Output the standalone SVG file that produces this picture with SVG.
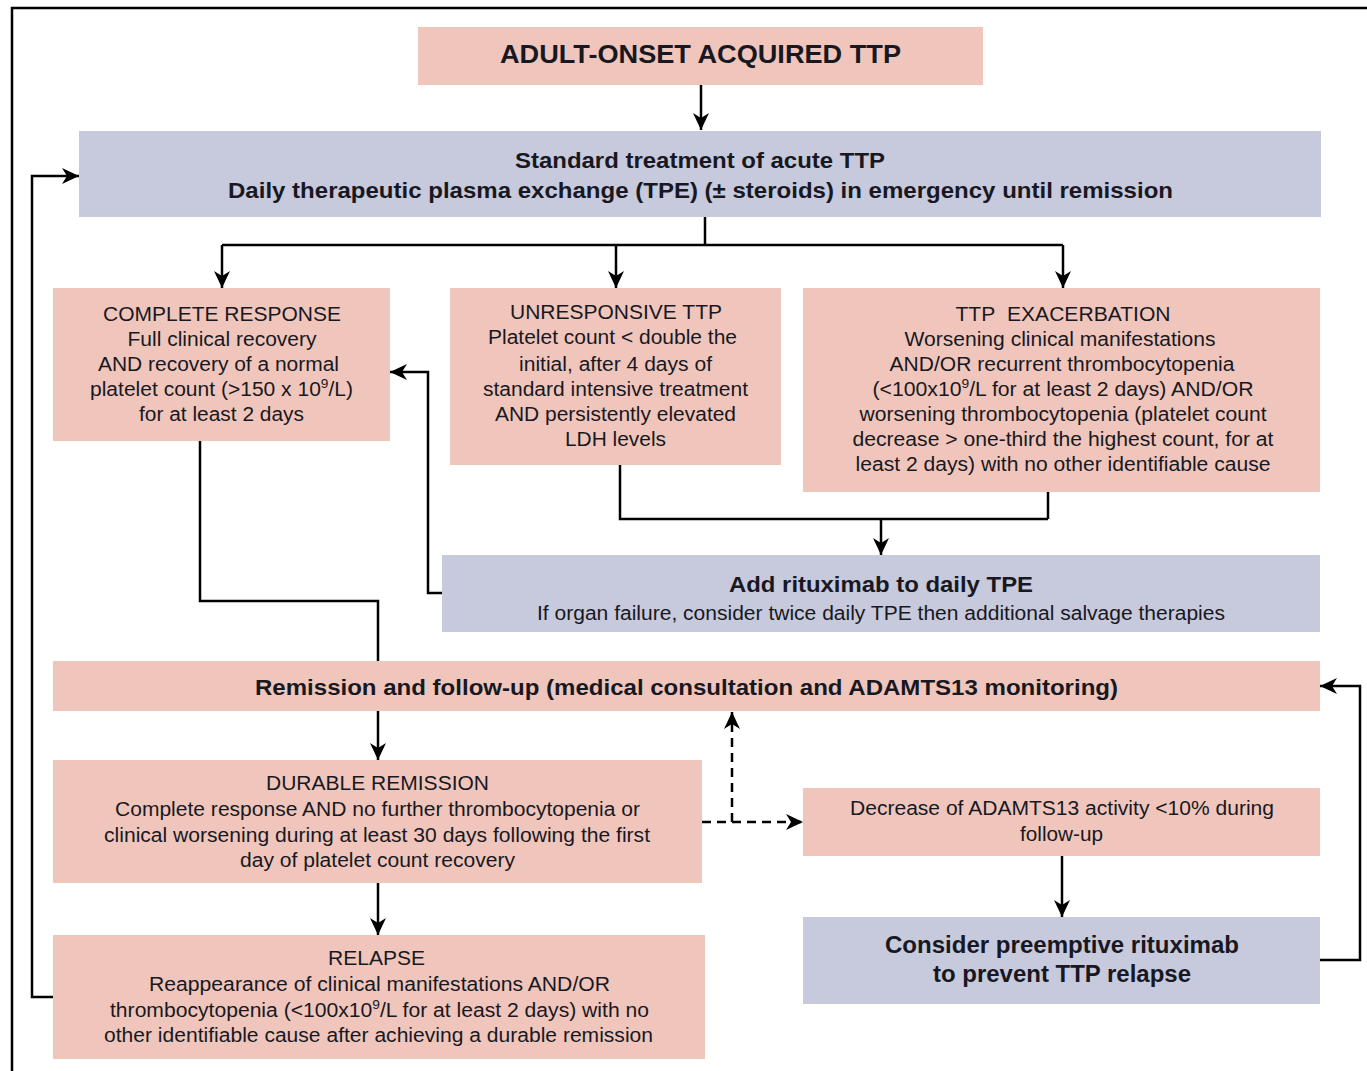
<svg xmlns="http://www.w3.org/2000/svg" width="1367" height="1071" viewBox="0 0 1367 1071">
<style>
.pink{fill:#F0C6BC;}
.blue{fill:#C7C9DC;}
text{font-family:"Liberation Sans",Arial,sans-serif;fill:#181822;text-anchor:middle;}
.b{font-weight:bold;font-size:22px;}
.r{font-size:20px;}
.c{font-size:20px;}
.ln{fill:none;stroke:#000;stroke-width:2.5;}
.ar{marker-end:url(#ah);}
.da{stroke-dasharray:9 6;}
</style>
<defs>
<marker id="ah" markerUnits="userSpaceOnUse" markerWidth="18" markerHeight="16" refX="17" refY="8" orient="auto">
<path d="M0,0 L17,8 L0,16 L5,8 z" fill="#000"/>
</marker>
</defs>
<rect x="12" y="8" width="1400" height="1100" fill="none" stroke="#000" stroke-width="2.5"/>
<g id="connectors">
<path class="ln ar" d="M701,85 V130"/>
<path class="ln" d="M705,217 V245 M222,245 H1063"/>
<path class="ln ar" d="M222,245 V288"/>
<path class="ln ar" d="M616,245 V288"/>
<path class="ln ar" d="M1063,245 V288"/>
<path class="ln" d="M620,465 V519 H1048 M1048,492 V519"/>
<path class="ln ar" d="M881,519 V555"/>
<path class="ln ar" d="M442,593 H428 V372 H390"/>
<path class="ln" d="M200,441 V601 H378 V661"/>
<path class="ln ar" d="M378,711 V760"/>
<path class="ln ar" d="M378,883 V935"/>
<path class="ln ar" d="M53,997 H32 V176 H79"/>
<path class="ln da ar" d="M702,822 H803"/>
<path class="ln da ar" d="M732,822 V712"/>
<path class="ln ar" d="M1062,856 V917"/>
<path class="ln ar" d="M1320,960 H1360 V686 H1320"/>
</g>
<g id="n-title">
<rect class="pink" x="418" y="27" width="565" height="58"/>
<text class="b" style="font-size:26px" x="700.5" y="63" textLength="401" lengthAdjust="spacingAndGlyphs">ADULT-ONSET ACQUIRED TTP</text>
</g>
<g id="n-standard">
<rect class="blue" x="79" y="131" width="1242" height="86"/>
<text class="b" x="700" y="168" textLength="370" lengthAdjust="spacingAndGlyphs">Standard treatment of acute TTP</text>
<text class="b" x="700.5" y="198" textLength="945" lengthAdjust="spacingAndGlyphs">Daily therapeutic plasma exchange (TPE) (± steroids) in emergency until remission</text>
</g>
<g id="n-complete">
<rect class="pink" x="53" y="288" width="337" height="153"/>
<text class="r" x="222" y="321" textLength="238" lengthAdjust="spacingAndGlyphs">COMPLETE RESPONSE</text>
<text class="r" x="222" y="346" textLength="189" lengthAdjust="spacingAndGlyphs">Full clinical recovery</text>
<text class="r" x="218.5" y="371" textLength="241" lengthAdjust="spacingAndGlyphs">AND recovery of a normal</text>
<text class="r" x="221.5" y="396" textLength="263" lengthAdjust="spacingAndGlyphs">platelet count (&gt;150 x 10<tspan dy="-8" font-size="13">9</tspan><tspan dy="8">/L)</tspan></text>
<text class="r" x="221.5" y="421" textLength="165" lengthAdjust="spacingAndGlyphs">for at least 2 days</text>
</g>
<g id="n-unresponsive">
<rect class="pink" x="450" y="288" width="331" height="177"/>
<text class="r" x="616" y="319" textLength="212" lengthAdjust="spacingAndGlyphs">UNRESPONSIVE TTP</text>
<text class="r" x="612.5" y="344" textLength="249" lengthAdjust="spacingAndGlyphs">Platelet count &lt; double the</text>
<text class="r" x="615.5" y="371" textLength="193" lengthAdjust="spacingAndGlyphs">initial, after 4 days of</text>
<text class="r" x="615.5" y="396" textLength="265" lengthAdjust="spacingAndGlyphs">standard intensive treatment</text>
<text class="r" x="615.5" y="421" textLength="241" lengthAdjust="spacingAndGlyphs">AND persistently elevated</text>
<text class="r" x="615.5" y="446" textLength="101" lengthAdjust="spacingAndGlyphs">LDH levels</text>
</g>
<g id="n-exacerbation">
<rect class="pink" x="803" y="288" width="517" height="204"/>
<text class="r" x="1063" y="321" textLength="215" lengthAdjust="spacingAndGlyphs">TTP&#160; EXACERBATION</text>
<text class="r" x="1060" y="346" textLength="311" lengthAdjust="spacingAndGlyphs">Worsening clinical manifestations</text>
<text class="r" x="1062" y="371" textLength="345" lengthAdjust="spacingAndGlyphs">AND/OR recurrent thrombocytopenia</text>
<text class="r" x="1063" y="396" textLength="381" lengthAdjust="spacingAndGlyphs">(&lt;100x10<tspan dy="-8" font-size="13">9</tspan><tspan dy="8">/L for at least 2 days) AND/OR</tspan></text>
<text class="r" x="1063" y="421" textLength="407" lengthAdjust="spacingAndGlyphs">worsening thrombocytopenia (platelet count</text>
<text class="r" x="1063" y="446" textLength="421" lengthAdjust="spacingAndGlyphs">decrease &gt; one-third the highest count, for at</text>
<text class="r" x="1063" y="471" textLength="415" lengthAdjust="spacingAndGlyphs">least 2 days) with no other identifiable cause</text>
</g>
<g id="n-rituximab">
<rect class="blue" x="442" y="555" width="878" height="77"/>
<text class="b" x="881" y="592" textLength="304" lengthAdjust="spacingAndGlyphs">Add rituximab to daily TPE</text>
<text class="r" x="881" y="620" textLength="688" lengthAdjust="spacingAndGlyphs">If organ failure, consider twice daily TPE then additional salvage therapies</text>
</g>
<g id="n-remission">
<rect class="pink" x="53" y="661" width="1267" height="50"/>
<text class="b" x="686.5" y="695" textLength="863" lengthAdjust="spacingAndGlyphs">Remission and follow-up (medical consultation and ADAMTS13 monitoring)</text>
</g>
<g id="n-durable">
<rect class="pink" x="53" y="760" width="649" height="123"/>
<text class="c" x="377.5" y="790" textLength="223" lengthAdjust="spacingAndGlyphs">DURABLE REMISSION</text>
<text class="c" x="377.5" y="816" textLength="525" lengthAdjust="spacingAndGlyphs">Complete response AND no further thrombocytopenia or</text>
<text class="c" x="377" y="842" textLength="546" lengthAdjust="spacingAndGlyphs">clinical worsening during at least 30 days following the first</text>
<text class="c" x="377.5" y="867" textLength="275" lengthAdjust="spacingAndGlyphs">day of platelet count recovery</text>
</g>
<g id="n-relapse">
<rect class="pink" x="53" y="935" width="652" height="124"/>
<text class="c" x="376.5" y="965" textLength="97" lengthAdjust="spacingAndGlyphs">RELAPSE</text>
<text class="c" x="379.5" y="991" textLength="461" lengthAdjust="spacingAndGlyphs">Reappearance of clinical manifestations AND/OR</text>
<text class="c" x="379.5" y="1017" textLength="539" lengthAdjust="spacingAndGlyphs">thrombocytopenia (&lt;100x10<tspan dy="-8" font-size="13">9</tspan><tspan dy="8">/L for at least 2 days) with no</tspan></text>
<text class="c" x="378.5" y="1042" textLength="549" lengthAdjust="spacingAndGlyphs">other identifiable cause after achieving a durable remission</text>
</g>
<g id="n-decrease">
<rect class="pink" x="803" y="788" width="517" height="68"/>
<text class="c" x="1062" y="815" textLength="424" lengthAdjust="spacingAndGlyphs">Decrease of ADAMTS13 activity &lt;10% during</text>
<text class="c" x="1061.5" y="841" textLength="83" lengthAdjust="spacingAndGlyphs">follow-up</text>
</g>
<g id="n-preemptive">
<rect class="blue" x="803" y="917" width="517" height="87"/>
<text class="b" style="font-size:23px" x="1062" y="953" textLength="354" lengthAdjust="spacingAndGlyphs">Consider preemptive rituximab</text>
<text class="b" style="font-size:23px" x="1062" y="982" textLength="258" lengthAdjust="spacingAndGlyphs">to prevent TTP relapse</text>
</g>
</svg>
